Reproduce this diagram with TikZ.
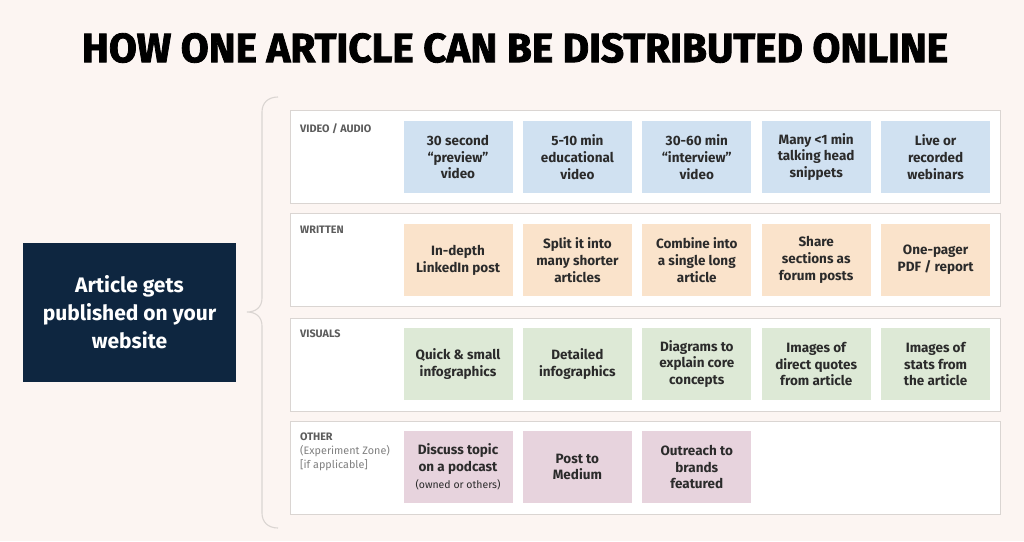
\documentclass[tikz,border=0pt]{standalone}
\usepackage{fontspec}
\setmainfont{Fira Sans}
\newfontfamily\heavyfont{Fira Sans}[BoldFeatures={FakeBold=2}]
\usetikzlibrary{positioning}
\definecolor{cbg}{HTML}{FCF5F2}
\definecolor{cnavy}{HTML}{0E2640}
\definecolor{cblue}{HTML}{D0E1F1}
\definecolor{cpeach}{HTML}{FAE3CB}
\definecolor{cgreen}{HTML}{DDE9D6}
\definecolor{cmauve}{HTML}{E7D3DD}
\definecolor{cline}{HTML}{DAD5D2}
\definecolor{ctext}{HTML}{2B2B2B}
\definecolor{cgrey}{HTML}{5C5C5C}
\tikzset{
  every picture/.style={x=1pt, y=-1pt},
  card/.style={fill=#1, minimum width=109pt, minimum height=72pt, inner sep=2pt, align=center, text=ctext, font=\fontsize{13.5}{16.8}\selectfont\bfseries},
  card/.default=cblue,
  panel/.style={draw=cline, fill=white, line width=0.8pt, minimum width=710pt, minimum height=93pt, inner sep=0pt, anchor=north west},
  rowlabel/.style={anchor=north west, inner sep=0pt, align=left, text=cgrey, font=\fontsize{10.8}{14}\selectfont\bfseries},
  title/.style={inner sep=0pt, text=black, font=\heavyfont\bfseries},
}
\begin{document}
\begin{tikzpicture}[
  v/.style={card=cblue},
  w/.style={card=cpeach},
  g/.style={card=cgreen},
  o/.style={card=cmauve},
  gap/.style={right=10pt of #1}]
  \useasboundingbox (0,0) rectangle (1024,541);
  \fill[cbg] (0,0) rectangle (1024,541);
  % title
  \node[title] (head) at (515,48) {\resizebox{866pt}{29pt}{HOW ONE ARTICLE CAN BE DISTRIBUTED ONLINE}};
  % source
  \node[fill=cnavy, minimum width=213pt, minimum height=139pt, align=center, text=white,
    font=\fontsize{21}{28}\selectfont\bfseries] (art) at (129.5,312.5) {Article gets\\published on your\\website};
  \draw[cline, line width=1.1pt] (278,97) .. controls (268,97) and (262,103) .. (262,112)
    -- (262,298) .. controls (262,307) and (256,312) .. (247,312)
    .. controls (256,312) and (262,317) .. (262,326)
    -- (262,513) .. controls (262,522) and (268,528) .. (278,528);
  % rows
  \node[panel] (pv) at (290,110) {};
  \node[panel] (pw) at (290,213) {};
  \node[panel] (pg) at (290,318) {};
  \node[panel] (po) at (290,421) {};
  \node[rowlabel] (lv) at (300,123) {VIDEO / AUDIO};
  \node[rowlabel] (lw) at (300,226) {WRITTEN};
  \node[rowlabel] (lg) at (300,330) {VISUALS};
  \node[rowlabel] (lo) at (300,433) {OTHER\\{\mdseries\color{gray}(Experiment Zone)}\\{\mdseries\color{gray}[if applicable]}};
  % video / audio
  \node[v] (v1) at (458,157) {30 second\\“preview”\\video};
  \node[v, gap=v1] (v2) {5-10 min\\educational\\video};
  \node[v, gap=v2] (v3) {30-60 min\\“interview”\\video};
  \node[v, gap=v3] (v4) {Many <1 min\\talking head\\snippets};
  \node[v, gap=v4] (v5) {Live or\\recorded\\webinars};
  % written
  \node[w] (w1) at (458,260) {In-depth\\LinkedIn post};
  \node[w, gap=w1] (w2) {Split it into\\many shorter\\articles};
  \node[w, gap=w2] (w3) {Combine into\\a single long\\article};
  \node[w, gap=w3] (w4) {Share\\sections as\\forum posts};
  \node[w, gap=w4] (w5) {One-pager\\PDF / report};
  % visuals
  \node[g] (g1) at (458,364) {Quick \& small\\infographics};
  \node[g, gap=g1] (g2) {Detailed\\infographics};
  \node[g, gap=g2] (g3) {Diagrams to\\explain core\\concepts};
  \node[g, gap=g3] (g4) {Images of\\direct quotes\\from article};
  \node[g, gap=g4] (g5) {Images of\\stats from\\the article};
  % other
  \node[o] (o1) at (458,467) {Discuss topic\\on a podcast\\{\mdseries\fontsize{10.5}{14}\selectfont(owned or others)}};
  \node[o, gap=o1] (o2) {Post to\\Medium};
  \node[o, gap=o2] (o3) {Outreach to\\brands\\featured};
\end{tikzpicture}
\end{document}
